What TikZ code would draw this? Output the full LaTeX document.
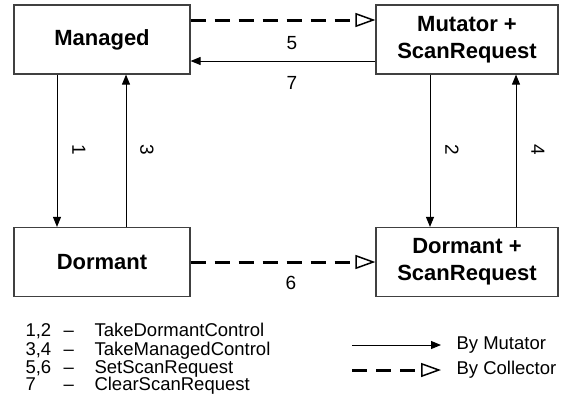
\documentclass[tikz,border=0pt]{standalone}
\usepackage{fontspec}
\setmainfont{Liberation Sans}
\usetikzlibrary{arrows.meta, positioning}

\begin{document}
\begin{tikzpicture}[x=1pt, y=-1pt, % pixel units, y going down
    state/.style={draw=black!75, line width=1.2pt, minimum height=69pt,
        align=center, font=\fontsize{22}{27}\selectfont\bfseries},
    mutator/.style={-{Triangle[width=8pt, length=10pt]}, line width=1pt},
    collector/.style={-{Triangle[open, width=14pt, length=20pt, line width=1.5pt]},
        line width=3pt, dash pattern=on 15pt off 9pt},
    num/.style={font=\fontsize{19}{20}\selectfont},
    legend/.style={font=\fontsize{18.5}{19}\selectfont, anchor=base west}]

    \useasboundingbox (0,0) rectangle (575,410);

    % The four states
    \node[state, minimum width=176pt] (managed) at (102,39.5) {Managed};
    \node[state, minimum width=182pt] (mutscan) at (467,39.5) {Mutator +\\ScanRequest};
    \node[state, minimum width=176pt] (dormant) at (102,262) {Dormant};
    \node[state, minimum width=182pt] (dormscan) at (467,262) {Dormant +\\ScanRequest};

    % Transitions between the top states
    \draw[collector] (managed.east |- 0,20) -- (mutscan.west |- 0,20);
    \draw[mutator] (mutscan.west |- 0,61) -- (managed.east |- 0,61);
    \node[num] (n5) at (292,43) {5};
    \node[num] (n7) at (292,83) {7};

    % Transition between the bottom states
    \draw[collector] (dormant) -- (dormscan);
    \node[num] (n6) at (291,283) {6};

    % Up and down transitions
    \draw[mutator] (managed.south -| 57,0) -- (dormant.north -| 57,0);
    \draw[mutator] (dormant.north -| 126,0) -- (managed.south -| 126,0);
    \draw[mutator] (mutscan.south -| 430,0) -- (dormscan.north -| 430,0);
    \draw[mutator] (dormscan.north -| 516,0) -- (mutscan.south -| 516,0);
    \foreach \x/\label in {79/1, 147/3, 452/2, 538/4} {
        \node[num, rotate=-90] (n\label) at (\x,150) {\label};
    }

    % Legend of the transitions (y is the baseline)
    \foreach \y/\num/\text in {
            336/{1,2}/TakeDormantControl,
            355/{3,4}/TakeManagedControl,
            373/{5,6}/SetScanRequest,
            390/7/ClearScanRequest
        } {
        \node[legend] (key\y) at (22,\y) {\num};
        \node[legend] (dash\y) at (60,\y) {--};
        \node[legend] (text\y) at (91,\y) {\text};
    }

    % Legend of the arrows
    \coordinate (mfrom) at (352,345);
    \coordinate (mto) at (441,345);
    \draw[mutator] (mfrom) -- (mto);
    \node[legend, anchor=west, right=12pt of mto] (bymut) {By Mutator};
    \coordinate (cfrom) at (352,370);
    \coordinate (cto) at (441,370);
    \draw[collector] (cfrom) -- (cto);
    \node[legend, anchor=west, right=12pt of cto] (bycol) {By Collector};

\end{tikzpicture}
\end{document}
